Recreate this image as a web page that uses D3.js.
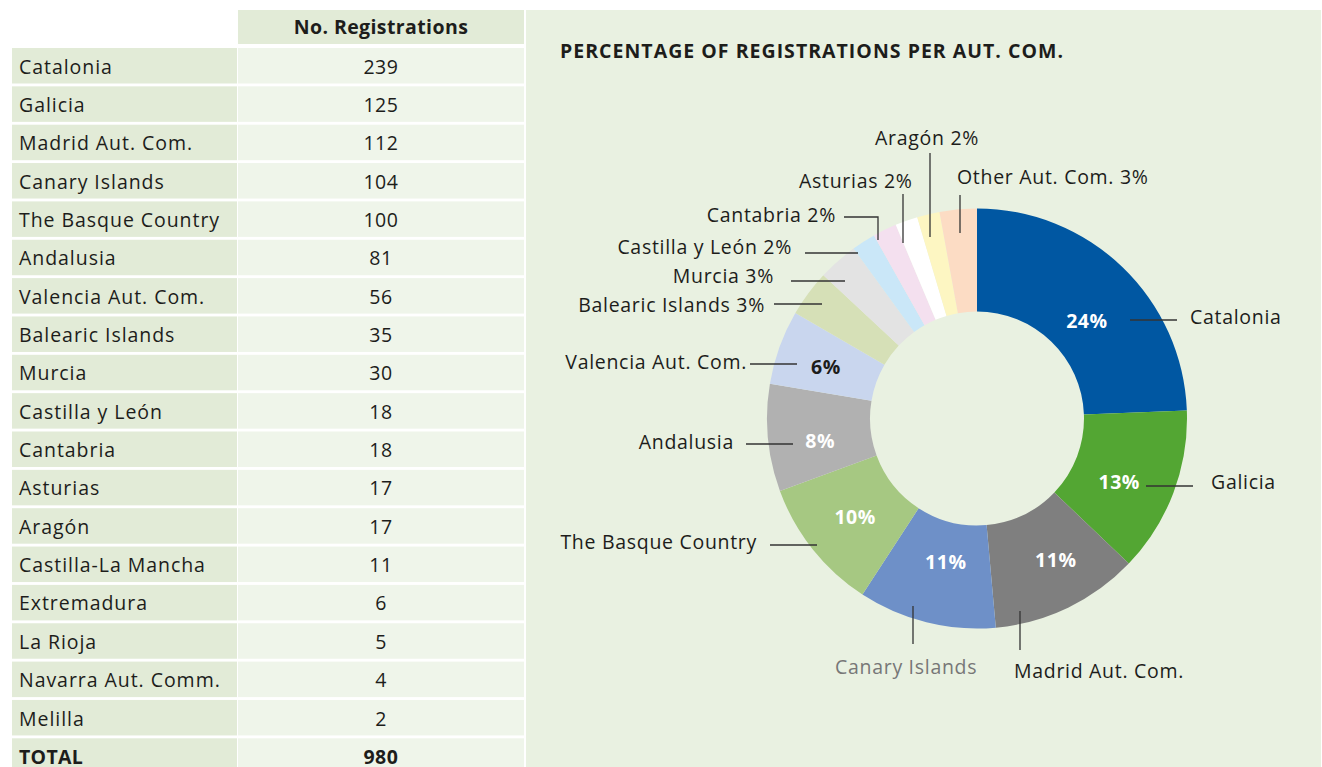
<!DOCTYPE html>
<html><head><meta charset="utf-8">
<script src="https://cdn.jsdelivr.net/npm/d3@7"></script>
<style>
html,body{margin:0;padding:0;background:#fff;}
svg{display:block;font-family:"Open Sans",sans-serif;}
</style></head>
<body>
<svg id="c" width="1322" height="767"></svg>
<script>
// ---------- DATA ----------
const tableHeader = "No. Registrations";
const regions = ["Catalonia","Galicia","Madrid Aut. Com.","Canary Islands","The Basque Country","Andalusia","Valencia Aut. Com.","Balearic Islands","Murcia","Castilla y León","Cantabria","Asturias","Aragón","Castilla-La Mancha","Extremadura","La Rioja","Navarra Aut. Comm.","Melilla"];
const registrations = [239,125,112,104,100,81,56,35,30,18,18,17,17,11,6,5,4,2];
const totalLabel = "TOTAL";
const totalValue = 980;

const chartTitle = "PERCENTAGE OF REGISTRATIONS PER AUT. COM.";
const pieCategories = ["Catalonia","Galicia","Madrid Aut. Com.","Canary Islands","The Basque Country","Andalusia","Valencia Aut. Com.","Balearic Islands","Murcia","Castilla y León","Cantabria","Asturias","Aragón","Other Aut. Com."];
const pieValues = [239,125,112,104,100,81,56,35,30,18,18,17,17,28];
const piePercentLabels = ["24%","13%","11%","11%","10%","8%","6%","3%","3%","2%","2%","2%","2%","3%"];
const pieColors = ["#0057a2","#53a633","#7f7f7f","#6e90c8","#a6c882","#b1b1b1","#c9d6ee","#d6e0b7","#e3e3e3","#cae7f8","#f4e0ef","#ffffff","#fdf6c2","#fcdcc4"];

// ---------- LAYOUT ----------
const svg = d3.select("#c");
const ink = "#1d1d1b";
const fs = 19.5;
const ls = 0.95;
const lsChart = 0.7;

// Table
const rowY = d3.scaleLinear().domain([0,1]).range([48, 48+38.35]);
const rowH = 35.5;
const colX = {labelX0:12, labelX1:237, valX0:238, valX1:524};
const tbl = svg.append("g");

tbl.append("rect").attr("x",colX.valX0).attr("y",10).attr("width",colX.valX1-colX.valX0).attr("height",34).attr("fill","#e2ebd7");
tbl.append("text").attr("x",(colX.valX0+colX.valX1)/2).attr("y",27.5).attr("dy","0.35em")
  .attr("text-anchor","middle").attr("font-weight","bold").attr("font-size",fs).attr("letter-spacing",0.4).attr("fill",ink).text(tableHeader);

const rows = regions.map((r,i)=>({name:r,value:registrations[i],bold:false}));
rows.push({name:totalLabel,value:totalValue,bold:true});

const rg = tbl.selectAll("g.row").data(rows).join("g").attr("class","row")
  .attr("transform",(d,i)=>`translate(0,${rowY(i)})`);
rg.append("rect").attr("x",colX.labelX0).attr("width",colX.labelX1-colX.labelX0).attr("height",rowH).attr("fill","#e2ebd7");
rg.append("rect").attr("x",colX.valX0).attr("width",colX.valX1-colX.valX0).attr("height",rowH).attr("fill","#eff5ea");
rg.append("text").attr("x",19).attr("y",rowH/2+1).attr("dy","0.35em").attr("font-size",fs)
  .attr("letter-spacing",d=>d.bold?0.3:ls)
  .attr("font-weight",d=>d.bold?"bold":"normal").attr("fill",ink).text(d=>d.name);
rg.append("text").attr("x",(colX.valX0+colX.valX1)/2).attr("y",rowH/2+1).attr("dy","0.35em").attr("text-anchor","middle")
  .attr("font-size",fs).attr("letter-spacing",0.6).attr("font-weight",d=>d.bold?"bold":"normal").attr("fill",ink).text(d=>d.value);

// Chart panel
svg.append("rect").attr("x",526).attr("y",10).attr("width",1321-526).attr("height",767-10).attr("fill","#e9f1e1");
svg.append("text").attr("x",560).attr("y",51).attr("dy","0.35em").attr("font-weight","bold").attr("font-size",19.5)
  .attr("textLength",503).attr("lengthAdjust","spacing")
  .attr("fill",ink).text(chartTitle);

const cx = 977, cy = 418.5, rOuter = 210, rInner = 107;
const pie = d3.pie().sort(null).value(d=>d).startAngle(0).endAngle(2*Math.PI);
const arcs = pie(pieValues);
const arc = d3.arc().innerRadius(rInner).outerRadius(rOuter);
const g = svg.append("g").attr("transform",`translate(${cx},${cy})`);
g.selectAll("path").data(arcs).join("path").attr("d",arc).attr("fill",(d,i)=>pieColors[i]);

// inner percent labels (first 7 slices)
const innerCount = 7;
const innerNudge = [[0,17],[-6,8],[10,-1],[7,-10],[2,0],[1,8],[-2,2]];
arcs.slice(0,innerCount).forEach((a,i)=>{
  const c = arc.centroid(a);
  g.append("text").attr("x",c[0]+innerNudge[i][0]).attr("y",c[1]+innerNudge[i][1]).attr("dy","0.35em")
   .attr("text-anchor","middle").attr("font-weight","bold").attr("font-size",19.5).attr("letter-spacing",0.5)
   .attr("fill", i===6 ? ink : "#ffffff").text(piePercentLabels[i]);
});

// outer annotations: text anchor point, anchor, leader polyline (page coords)
const annotations = [
  {x:1190,y:317,anchor:"start",line:[[1130,320],[1177,320]]},
  {x:1211,y:482,anchor:"start",line:[[1146,486],[1193,486]]},
  {x:1014,y:671,anchor:"start",line:[[1020,611],[1020,650]]},
  {x:835,y:667,anchor:"start",line:[[913,606],[913,644]],color:"#777777"},
  {x:757,y:542,anchor:"end",line:[[770,545],[817,545]]},
  {x:734,y:442,anchor:"end",line:[[746,444],[793,444]]},
  {x:747,y:362,anchor:"end",line:[[750,364],[797,364]]},
  {x:765,y:305,anchor:"end",line:[[774,304],[822,304]],pct:true},
  {x:774,y:276,anchor:"end",line:[[791,281],[845,281]],pct:true},
  {x:792,y:247,anchor:"end",line:[[805,253],[858,253]],pct:true},
  {x:836,y:215,anchor:"end",line:[[844,217],[878,217],[878,240]],pct:true},
  {x:799,y:181,anchor:"start",line:[[903,194],[903,243]],pct:true},
  {x:875,y:138,anchor:"start",line:[[930,153],[930,237]],pct:true},
  {x:957,y:177,anchor:"start",line:[[960,195],[960,233]],pct:true}
];
const ann = svg.append("g");
annotations.forEach((a,i)=>{
  ann.append("path").attr("d",d3.line()(a.line)).attr("fill","none").attr("stroke","#333").attr("stroke-width",1.3);
  ann.append("text").attr("x",a.x).attr("y",a.y).attr("dy","0.35em").attr("text-anchor",a.anchor)
    .attr("font-size",fs).attr("letter-spacing",lsChart).attr("fill",a.color||ink)
    .text(a.pct ? `${pieCategories[i]} ${piePercentLabels[i]}` : pieCategories[i]);
});
</script>
</body></html>
